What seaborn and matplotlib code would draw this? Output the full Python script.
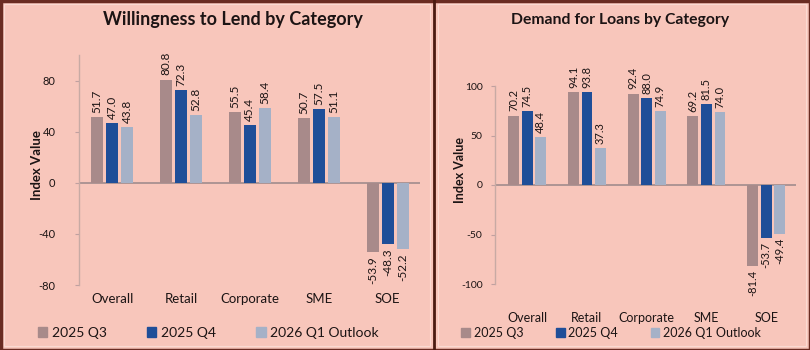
import matplotlib
matplotlib.use("Agg")
import matplotlib.pyplot as plt
import seaborn as sns
import pandas as pd
from matplotlib.lines import Line2D
from matplotlib.patches import Rectangle

categories = ["Overall", "Retail", "Corporate", "SME", "SOE"]
series_names = ["2025 Q3", "2025 Q4", "2026 Q1 Outlook"]

lend_q3 = [51.7, 80.8, 55.5, 50.7, -53.9]
lend_q4 = [47.0, 72.3, 45.4, 57.5, -48.3]
lend_q1 = [43.8, 52.8, 58.4, 51.1, -52.2]

demand_q3 = [70.2, 94.1, 92.4, 69.2, -81.4]
demand_q4 = [74.5, 93.8, 88.0, 81.5, -53.7]
demand_q1 = [48.4, 37.3, 74.9, 74.0, -49.4]

left_title = "Willingness to Lend by Category"
right_title = "Demand for Loans by Category"
y_label = "Index Value"
left_yticks = [-80, -40, 0, 40, 80]
right_yticks = [-100, -50, 0, 50, 100]

colors = ["#a88a8a", "#1f4e98", "#a5b1c7"]
bg = "#f8c6bb"
text_c = "#1c1414"

sns.set_theme(style="white")
plt.rcParams["font.family"] = ["Lato", "DejaVu Sans"]


def long_df(q3, q4, q1):
    rows = []
    for s, vals in zip(series_names, [q3, q4, q1]):
        for c, v in zip(categories, vals):
            rows.append({"Category": c, "Series": s, "Value": v})
    return pd.DataFrame(rows)


W, H = 810, 350
fig = plt.figure(figsize=(W / 100, H / 100), dpi=100)
fig.patch.set_facecolor(bg)


def px_axes(x0, x1, ytop, ybot):
    return fig.add_axes([x0 / W, 1 - ybot / H, (x1 - x0) / W, (ybot - ytop) / H])


def draw(ax, df, ylim, yticks, xlim, width, lab_fs, xpad, ytick_pad, ytick_fs):
    ax.set_facecolor(bg)
    sns.barplot(data=df, x="Category", y="Value", hue="Series", order=categories,
                hue_order=series_names, palette=colors, width=width, gap=0.2,
                ax=ax, legend=False, saturation=1, errorbar=None,
                edgecolor="none", linewidth=0)
    for cont in ax.containers:
        ax.bar_label(cont, fmt="%.1f", rotation=90, padding=3, fontsize=lab_fs,
                     color=text_c)
    ax.axhline(0, color="#a89090", lw=1.3, zorder=0.5)
    ax.set_ylim(*ylim)
    ax.set_xlim(*xlim)
    ax.set_yticks(yticks)
    ax.set_yticklabels([str(t) for t in yticks], fontsize=ytick_fs, color=text_c)
    ax.tick_params(axis="y", length=3, width=0.8, color="#c0a0a0", pad=ytick_pad, left=True)
    ax.tick_params(axis="x", length=0, pad=xpad, labelsize=9.5, labelcolor=text_c)
    ax.set_xlabel("")
    ax.set_ylabel("")
    for s in ["top", "right", "bottom"]:
        ax.spines[s].set_visible(False)
    ax.spines["left"].set_color("#c8aaa4")
    ax.spines["left"].set_linewidth(1.0)


ax1 = px_axes(79, 420, 55, 285)
draw(ax1, long_df(lend_q3, lend_q4, lend_q1), (-80, 100), left_yticks,
     (-0.48, 4.47), 0.65, 8.5, 6, 14, 8)

ax2 = px_axes(495, 796, 86, 284)
draw(ax2, long_df(demand_q3, demand_q4, demand_q1), (-100, 100), right_yticks,
     (-0.54, 4.5), 0.68, 8, 20, 6, 7.5)
ax2.tick_params(axis="x", labelsize=9)

# titles
fig.text(233 / W, 1 - 20 / H, left_title, ha="center", va="center",
         fontsize=13, fontweight="bold", color=text_c)
fig.text(620 / W, 1 - 20 / H, right_title, ha="center", va="center",
         fontsize=11.3, fontweight="bold", color=text_c)

# y labels
fig.text(37 / W, 1 - 165 / H, y_label, rotation=90, ha="center", va="center",
         fontsize=9.5, fontweight="bold", color=text_c)
fig.text(460 / W, 1 - 170 / H, y_label, rotation=90, ha="center", va="center",
         fontsize=9, fontweight="bold", color=text_c)

# legends
handles = [Rectangle((0, 0), 1, 1, color=c) for c in colors]
fig.legend(handles, series_names, loc="center", bbox_to_anchor=(208 / W, 1 - 333 / H),
           ncol=3, frameon=False, fontsize=10, handlelength=0.7, handleheight=0.7,
           handletextpad=0.3, columnspacing=2.9, labelcolor=text_c)
fig.legend(handles, series_names, loc="center", bbox_to_anchor=(611 / W, 1 - 333 / H),
           ncol=3, frameon=False, fontsize=9, handlelength=0.7, handleheight=0.7,
           handletextpad=0.3, columnspacing=2.6, labelcolor=text_c)

# frame and divider
fig.add_artist(Rectangle((0.5 / W, 0.5 / H), 1 - 1 / W, 1 - 1 / H, transform=fig.transFigure,
                         fill=False, edgecolor="#6a2c22", lw=2.5))
fig.add_artist(Line2D([434 / W, 434 / W], [0, 1], transform=fig.transFigure,
                      color="#4a1c12", lw=2))
for x0, x1 in [(4, 430), (438, 806)]:
    fig.add_artist(Rectangle((x0 / W, 4 / H), (x1 - x0) / W, (H - 8) / H,
                             transform=fig.transFigure, fill=False,
                             edgecolor="#fbdad2", lw=0.8))

fig.savefig("out.png", dpi=100, facecolor=bg)
